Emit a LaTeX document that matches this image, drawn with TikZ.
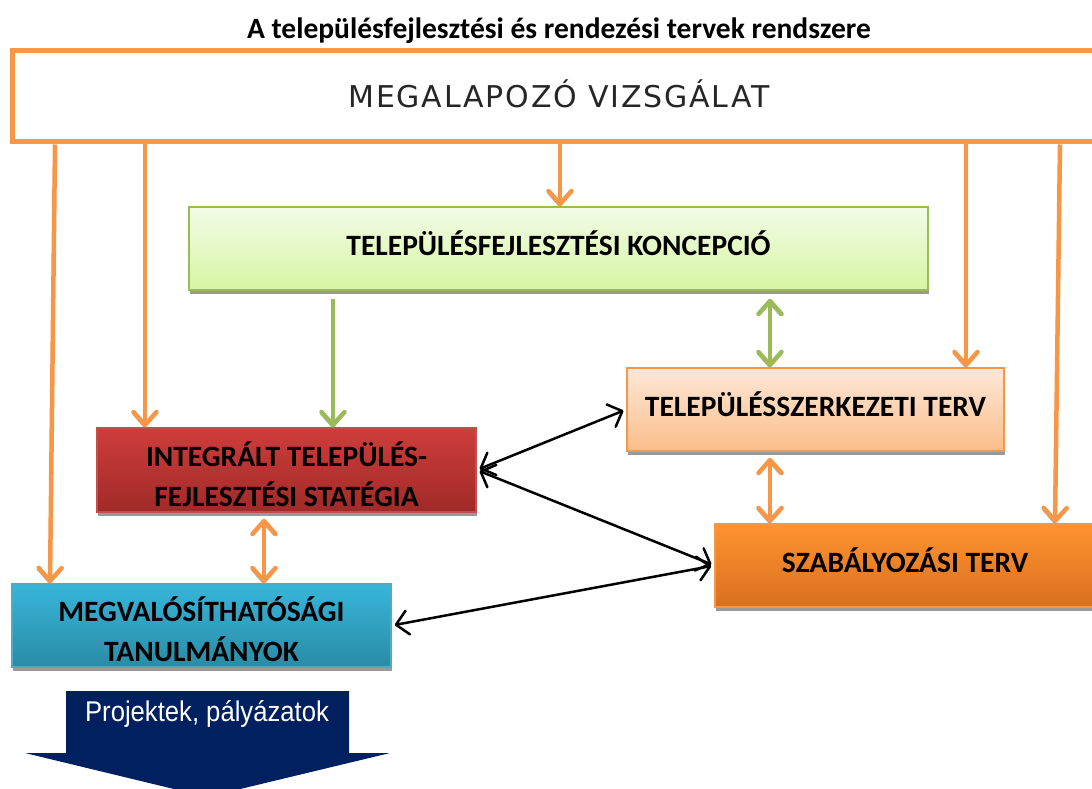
\documentclass[tikz,border=0pt]{standalone}
\usepackage{fontspec}
\setmainfont{Carlito}
\newfontfamily\megafont[LetterSpace=6]{DejaVu Sans}
\newfontfamily\projfont[FakeStretch=0.9]{Liberation Sans}
\usetikzlibrary{arrows.meta,shadows}
\definecolor{narancs}{HTML}{F79646}
\definecolor{zold}{HTML}{9BBB59}
\definecolor{koncfent}{HTML}{F2FCE6}
\definecolor{konclent}{HTML}{D6F5A2}
\definecolor{tsztfent}{HTML}{FDE7D8}
\definecolor{tsztlent}{HTML}{FBBE8A}
\definecolor{szabfent}{HTML}{FF9331}
\definecolor{szablent}{HTML}{D8701E}
\definecolor{itesfent}{HTML}{CE3D3B}
\definecolor{iteslent}{HTML}{A02A28}
\definecolor{itesszel}{HTML}{C0504D}
\definecolor{megvfent}{HTML}{37B5DA}
\definecolor{megvlent}{HTML}{2A8CA6}
\definecolor{megvszel}{HTML}{4BACC6}
\definecolor{sotetkek}{HTML}{002060}

\begin{document}
\begin{tikzpicture}[x=1pt,y=-1pt,
    vfej/.tip={Straight Barb[length=13pt,width=23pt,round]},
    kfej/.tip={Straight Barb[length=12pt,width=24pt,round]},
    doboz/.style={draw, line width=1.5pt, inner sep=2pt, align=center,
      font=\fontsize{29.5}{40}\selectfont\bfseries,
      drop shadow={shadow xshift=1pt,shadow yshift=-4pt,fill=black!40,opacity=1}},
    egysor/.style={text height=13.5pt, text depth=0pt},
    nyil/.style={draw=narancs, line width=4.5pt, -vfej,
      preaction={draw=black!35, transform canvas={xshift=-1.5pt,yshift=-2pt}}},
    ketnyil/.style={nyil, vfej-vfej},
    zoldnyil/.style={nyil, draw=zold},
    zoldket/.style={zoldnyil, vfej-vfej},
    fekete/.style={draw=black, line width=2.5pt, kfej-kfej, shorten <=3pt, shorten >=3pt}]
	\useasboundingbox (0,0) rectangle (1092,789);
	\node (cim) at (559,31) {\fontsize{29.5}{32}\selectfont\bfseries A településfejlesztési és rendezési tervek rendszere};
	\node[draw=narancs, line width=5pt, fill=white, minimum width=1094pt, minimum height=91pt,
	  text height=22pt, text depth=0pt, font=\megafont\fontsize{30}{36}\selectfont, text=black!85]
	  (mega) at (559,96.5) {MEGALAPOZÓ VIZSGÁLAT};
	\node[doboz, egysor, draw=zold, top color=koncfent, bottom color=konclent, minimum width=739pt, minimum height=83pt]
	  (konc) at (558.5,248.5) {TELEPÜLÉSFEJLESZTÉSI KONCEPCIÓ};
	\node[doboz, egysor, draw=narancs, top color=tsztfent, bottom color=tsztlent, minimum width=377pt, minimum height=83pt]
	  (tszt) at (815.5,409.5) {TELEPÜLÉSSZERKEZETI TERV};
	\node[doboz, egysor, draw=narancs, top color=szabfent, bottom color=szablent, minimum width=380pt, minimum height=83pt]
	  (szab) at (905,565.5) {SZABÁLYOZÁSI TERV};
	\node[doboz, draw=itesszel, top color=itesfent, bottom color=iteslent, minimum width=379pt, minimum height=84pt]
	  (ites) at (286.5,470) {\rule{0pt}{33pt}INTEGRÁLT TELEPÜLÉS-\\FEJLESZTÉSI STATÉGIA};
	\node[doboz, draw=megvszel, top color=megvfent, bottom color=megvlent, minimum width=379pt, minimum height=83pt]
	  (megv) at (201.5,625.5) {\rule{0pt}{33pt}MEGVALÓSÍTHATÓSÁGI\\TANULMÁNYOK};
	\fill[sotetkek] (66,691) -- (349,691) -- (349,753) -- (390,753) -- (207,797) -- (25,753) -- (66,753) -- cycle;
	\node[text=white, font=\projfont\fontsize{28.5}{32}\selectfont] (proj) at (207,714) {Projektek, pályázatok};
	\coordinate (p1) at (55,0);
	\coordinate (p2) at (50,0);
	\coordinate (p3) at (145,0);
	\coordinate (p4) at (560,0);
	\coordinate (p5) at (966,0);
	\coordinate (p6) at (1060,0);
	\coordinate (p7) at (1055,0);
	\coordinate (p8) at (333,0);
	\coordinate (p9) at (264,0);
	\coordinate (p10) at (770,0);
	\draw[nyil] (mega.south -| p1) -- (megv.north -| p2);
	\draw[nyil] (mega.south -| p3) -- (ites.north -| p3);
	\draw[nyil] (mega.south -| p4) -- (konc.north -| p4);
	\draw[nyil] (mega.south -| p5) -- (tszt.north -| p5);
	\draw[nyil] (mega.south -| p6) -- (szab.north -| p7);
	\draw[zoldnyil, shorten <=8pt] (konc.south -| p8) -- (ites.north -| p8);
	\draw[zoldket, shorten <=8pt] (konc.south -| p10) -- (tszt.north -| p10);
	\draw[ketnyil, shorten <=6pt] (tszt.south -| p10) -- (szab.north -| p10);
	\draw[ketnyil, shorten <=6pt] (ites.south -| p9) -- (megv.north -| p9);
	\draw[fekete] (ites.east) -- (tszt.west);
	\draw[fekete] (ites.east) -- (szab.west);
	\draw[fekete] (megv.east) -- (szab.west);
\end{tikzpicture}
\end{document}
